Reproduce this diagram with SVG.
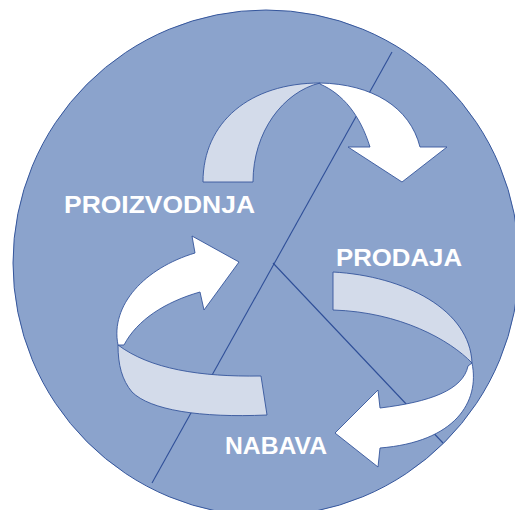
<svg xmlns="http://www.w3.org/2000/svg" width="515" height="510" viewBox="0 0 515 510">
<style>
.bg{fill:#8ba3cc;stroke:#35569c;stroke-width:1}
.ln{fill:none;stroke:#2f4f98;stroke-width:1.1}
.back{fill:#d3dbea;stroke:#35569c;stroke-width:0.9;stroke-linejoin:round}
.front{fill:#ffffff;stroke:#35569c;stroke-width:0.9;stroke-linejoin:round}
.lbl{font-family:"Liberation Sans",Arial,sans-serif;font-weight:bold;font-size:23px;fill:#ffffff}
</style>
<rect width="515" height="510" fill="#ffffff"/>
<g id="circle">
<circle class="bg" cx="266" cy="263" r="253"/>
</g>
<g id="connectors">
<line class="ln" x1="392" y1="52" x2="152" y2="483"/>
<line class="ln" x1="273" y1="263" x2="443" y2="443"/>
</g>
<g id="arrow-top">
<path class="back" d="M203,182 C203,122 250,83 320,83 C283,92 253,132 253,182 Z"/>
<path class="front" d="M320,83 C372,84 410,107 420,147 L447,147 L402,182 L348,147 L370,147 C360,115 343,94 320,84 Z"/>
</g>
<g id="arrow-left">
<path class="back" d="M118,345 C150,369 200,377 261,376 L267,415 C200,418 150,410 132,392 C122,380 118,365 118,345 Z"/>
<path class="front" d="M118,345 C110,305 145,268 195,253 L192,236 L239,262 L204,310 L200,292 C165,302 137,320 124,345 Z"/>
</g>
<g id="arrow-right">
<path class="back" d="M333,272 C405,276 470,310 472,363 C450,340 400,312 333,310 Z"/>
<path class="front" d="M472,363 C480,402 455,442 380,448 L378,467 L335,433 L378,390 L380,408 C430,402 463,390 468,366 Z"/>
</g>
<g id="label-proizvodnja">
<text class="lbl" x="64" y="213" textLength="191" lengthAdjust="spacingAndGlyphs">PROIZVODNJA</text>
</g>
<g id="label-prodaja">
<text class="lbl" x="336" y="266" textLength="126" lengthAdjust="spacingAndGlyphs">PRODAJA</text>
</g>
<g id="label-nabava">
<text class="lbl" x="225" y="454" textLength="102" lengthAdjust="spacingAndGlyphs">NABAVA</text>
</g>
</svg>
